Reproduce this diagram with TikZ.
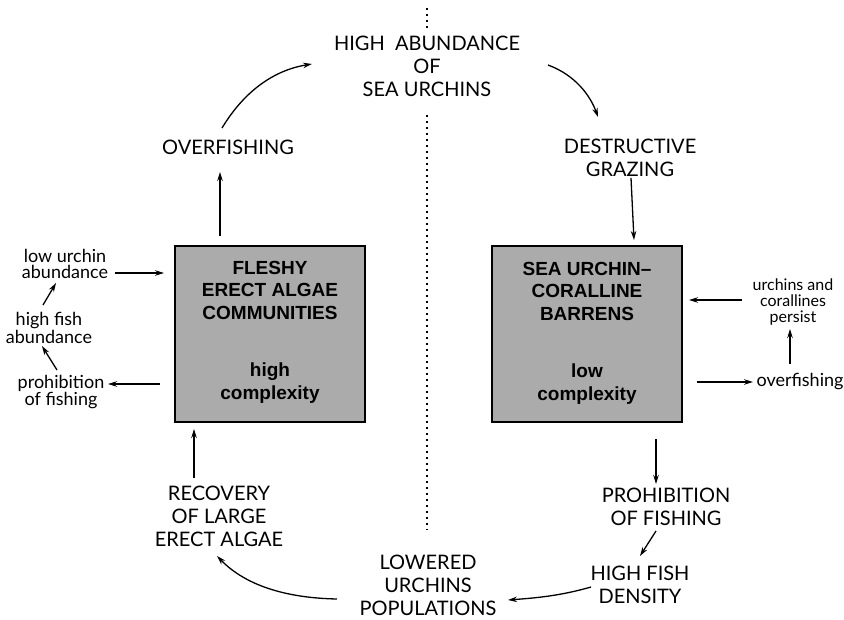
\documentclass[tikz,border=0pt]{standalone}
\usepackage{fontspec}
\setmainfont{Lato}
\newfontfamily\boxfont{Liberation Sans}
\usetikzlibrary{arrows.meta}
\begin{document}
\begin{tikzpicture}[x=1pt,y=-1pt,
  caplabel/.style={font=\fontsize{20}{23}\selectfont, align=center, inner sep=0pt},
  small/.style={font=\fontsize{18}{16.5}\selectfont, align=center, inner sep=0pt},
  state/.style={draw=black, line width=1.4pt, fill=black!33},
  boxtxt/.style={font=\boxfont\bfseries\fontsize{19}{22.5}\selectfont, align=center, inner sep=0pt},
  link/.style={line width=1.3pt, -{Stealth[length=9pt,width=5.5pt]}}]
\useasboundingbox (0,0) rectangle (844,620);
% dividing line
\draw[line width=2pt, dash pattern=on 1.6pt off 4.4pt] (427,8) -- (427,30);
\draw[line width=2pt, dash pattern=on 1.6pt off 4.4pt] (427,115) -- (427,530);
% state boxes
\draw[state] (175,246) rectangle (365,422);
\draw[state] (492,246) rectangle (682,422);
\node[boxtxt] (fleshy) at (270,290) {FLESHY\\ERECT ALGAE\\COMMUNITIES};
\node[boxtxt] (hc) at (270,383) {high\\complexity};
\node[boxtxt] (barren) at (587,291) {SEA URCHIN–\\CORALLINE\\BARRENS};
\node[boxtxt] (lc) at (587,384) {low\\complexity};
% cycle labels
\node[caplabel] (high) at (427,66) {HIGH\ \ ABUNDANCE\\OF\\SEA URCHINS};
\node[caplabel] (over) at (228,147) {OVERFISHING};
\node[caplabel] (destr) at (630,158) {DESTRUCTIVE\\GRAZING};
\node[caplabel] (prohib) at (666,507) {PROHIBITION\\OF FISHING};
\node[caplabel] (dens) at (640,585) {HIGH FISH\\DENSITY};
\node[caplabel] (lowered) at (428,585) {LOWERED\\URCHINS\\POPULATIONS};
\node[caplabel] (recov) at (219,516) {RECOVERY\\OF LARGE\\ERECT ALGAE};
% side labels
\node[small] (lowab) at (65,264) {low urchin\\abundance};
\node[small] (fishab) at (49,328) {high fish\\abundance};
\node[small] (proh) at (61,392) {prohibition\\of fishing};
\node[small, font=\fontsize{16}{16}\selectfont] (persist) at (793,302) {urchins and\\corallines\\persist};
\node[small] (overf) at (800,382) {overfishing};
% cycle connectors
\draw[link] (220,236) -- (220,172);
\draw[link] (222,128) .. controls (245,90) and (275,70) .. (312,64);
\draw[link] (548,65) .. controls (575,75) and (590,95) .. (598,117);
\draw[link] (631,178) -- (634,240);
\draw[link] (656,439) -- (656,484);
\draw[link] (656,531) -- (640,556);
\draw[link] (591,587) .. controls (560,596) and (535,598) .. (508,600);
\draw[link] (337,599) .. controls (285,598) and (245,585) .. (217,556);
\draw[link] (194,478) -- (194,429);
% side connectors
\draw[link] (115,273) -- (164,273);
\draw[link] (160,384) -- (108,384);
\draw[link] (43,305) -- (56,283);
\draw[link] (57,370) -- (42,346);
\draw[link] (742,300) -- (689,300);
\draw[link] (697,382) -- (753,382);
\draw[link] (790,364) -- (790,329);
\end{tikzpicture}
\end{document}
